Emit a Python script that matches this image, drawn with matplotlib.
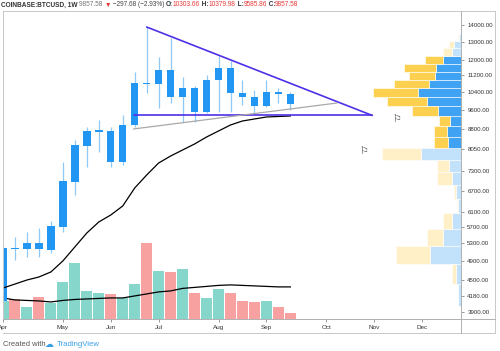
import numpy as np
import pandas as pd
import matplotlib
matplotlib.use('Agg')
import matplotlib.pyplot as plt
from matplotlib.lines import Line2D
from matplotlib.ticker import NullLocator

plt.rcParams['font.family'] = ['Liberation Sans', 'DejaVu Sans']

# weekly candles COINBASE:BTCUSD, first week = 1 Apr 2019
first_week = '2019-04-01'
opens = [4096, 5187, 5165, 5305, 5141, 5695, 6960, 8169, 8700, 8733, 7608, 8970, 10814,
         10766, 11458, 10161, 10576, 9505, 10960, 11560, 10343, 10161, 9761, 10388, 10303.66]
highs = [5250, 5448, 5570, 5670, 5849, 7608, 8390, 8890, 9171, 8890, 9379, 11357, 13875,
         12141, 13213, 11106, 10650, 11206, 12196, 11900, 10960, 10481, 10960, 10576, 10379.98]
lows = [4080, 4917, 4984, 4984, 5073, 5570, 6580, 7440, 7953, 7440, 7507, 8900, 10343,
        9675, 9900, 9091, 9091, 9461, 9505, 9505, 9804, 9461, 9718, 9892, 9585.86]
closes = [5187, 5165, 5305, 5165, 5722, 6990, 8205, 8733, 8760, 7608, 8970, 10814, 10766,
          11458, 10161, 10576, 9505, 10960, 11560, 10343, 10161, 9761, 10388, 10297, 9857.58]
price_ma = [4340, 4418, 4498, 4559, 4662, 4896, 5211, 5545, 5824, 6008, 6254, 6776, 7179,
            7574, 7812, 8025, 8242, 8502, 8733, 8970, 9131, 9212, 9295, 9316, 9337]

# volume (arbitrary units) and its moving average
volume = [18, 20, 12, 22, 16, 37, 56, 28, 26, 25, 21, 35, 76, 48, 47, 50, 26, 21, 30, 26,
          18, 17, 18, 12, 6]
volume_ma = [21, 19, 18.5, 18, 17, 18.5, 19.5, 20, 20.5, 21, 21, 23, 25, 27, 28, 30.5,
             31.5, 32.5, 33.5, 34, 33.5, 33, 32.5, 32, 32]

# visible range volume profile, rows of 410 USD starting at 4000
profile_start = 4000
profile_step = 410
profile_up = [3.5, 5, 31, 18, 9, 3, 5, 9, 12, 40, 13, 14, 11, 23, 34, 43, 32, 26, 25, 18,
              9, 7, 2, 1]
profile_down = [0, 4, 34, 16, 9, 1, 2, 15, 12, 39, 14, 13, 11, 26, 40, 45, 35, 26, 32, 18,
                9, 5, 1, 0.5]
value_area = (10, 19)

# drawings: (week index, price)
upper_trend = [(12, 13875), (30.83, 9360)]
lower_trend = [(10.9, 9360), (30.83, 9360)]
grey_trend = [(10.9, 8812), (27.9, 9892)]
flags = [(30.1, 7988), (32.9, 9212)]

price_ticks = [3900, 4180, 4500, 4900, 5300, 5700, 6100, 6700, 7300, 8050, 8800, 9600,
               10400, 11200, 12000, 13000, 14000]

header = [('COINBASE:BTCUSD, 1W ', '#333333', 'bold'), ('9857.58 ', '#777777', 'normal'),
          ('\u25bc', '#e53935', 'normal'), (' \u2212297.68 (\u22122.93%) ', '#444444', 'normal'),
          ('O:', '#333333', 'bold'), ('10303.66', '#e53935', 'normal'),
          (' H:', '#333333', 'bold'), ('10379.98', '#e53935', 'normal'),
          (' L:', '#333333', 'bold'), ('9585.86', '#e53935', 'normal'),
          (' C:', '#333333', 'bold'), ('9857.58', '#e53935', 'normal')]

W, H = 500, 351


def fx(px):
    return px / W


def fy(py):
    return 1 - py / H


fig = plt.figure(figsize=(5, 3.51), dpi=100)
rect = [fx(3), fy(319), fx(461) - fx(3), fy(11) - fy(319)]

ax_vol = fig.add_axes(rect)
ax = fig.add_axes(rect, sharex=ax_vol)
ax.set_yscale('log')
ax_prof = fig.add_axes(rect, sharey=ax)

x = np.arange(len(opens))
o = np.array(opens)
c = np.array(closes)
rising = c >= o

# volume
vol_colors = ['#86d6cc' if r else '#f7a1a0' for r in rising]
ax_vol.bar(x, volume, width=0.92, color=vol_colors, linewidth=0)
ax_vol.plot(x, volume_ma, color='black', lw=0.9)
ax_vol.set_ylim(0, max(volume) * 4.04)
ax_vol.set_xlim(0.083, 38.25)
ax_vol.axis('off')

# candles
ax.patch.set_visible(False)
ax.vlines(x, lows, highs, color='#90c8f6', lw=0.9, zorder=2)
ax.bar(x, np.abs(c - o), bottom=np.minimum(o, c), width=0.62, color='#2196f3',
       linewidth=0, zorder=3)
ax.plot(x, price_ma, color='black', lw=0.9, zorder=4)

for line, col, lw in [(upper_trend, '#4f2fe8', 1.2), (lower_trend, '#4f2fe8', 1.2),
                      (grey_trend, '#a8a8a8', 0.9)]:
    xs, ys = zip(*line)
    ax.plot(xs, ys, color=col, lw=lw, zorder=5, solid_capstyle='round')

for fxw, fp in flags:
    ax.text(fxw, fp, '\u2690', fontsize=7, family='DejaVu Sans', color='#333',
            ha='center', va='center', zorder=6)

ax.set_ylim(3781, 14900)
ax.yaxis.tick_right()
ax.set_yticks(price_ticks)
ax.set_yticklabels([f'{t:.2f}' for t in price_ticks])
ax.yaxis.set_minor_locator(NullLocator())
ax.tick_params(axis='y', length=2.5, width=0.6, color='#888', labelsize=4.4,
               labelcolor='#333', pad=2)

weeks = pd.date_range(first_week, periods=40, freq='7D')
month_idx = [i for i in range(len(weeks)) if i == 0 or weeks[i].month != weeks[i - 1].month]
ax.set_xticks(month_idx)
ax.set_xticklabels([weeks[i].strftime('%b') for i in month_idx])
ax.tick_params(axis='x', length=2, width=0.6, color='#888', labelsize=4.6,
               labelcolor='#333', pad=2.5)
for s in ax.spines.values():
    s.set_visible(False)

# volume profile
ax_prof.patch.set_visible(False)
rows = profile_start + profile_step * np.arange(len(profile_up))
in_va = [value_area[0] <= i <= value_area[1] for i in range(len(rows))]
blue_cols = ['#40a2f2' if v else '#c2e1fb' for v in in_va]
yel_cols = ['#fdd14f' if v else '#fff0c8' for v in in_va]
ax_prof.barh(rows, profile_up, height=profile_step, align='edge', color=blue_cols,
             edgecolor='white', linewidth=0.4)
ax_prof.barh(rows, profile_down, height=profile_step, align='edge', left=profile_up,
             color=yel_cols, edgecolor='white', linewidth=0.4)
tot = np.array(profile_up) + np.array(profile_down)
ax_prof.set_xlim(tot.max() / 0.192, 0)
ax_prof.tick_params(left=False, labelleft=False, right=False, labelright=False,
                    bottom=False, labelbottom=False)
for s in ax_prof.spines.values():
    s.set_visible(False)


# frame
def seg(x0, y0, x1, y1, col='#c8c8c8'):
    fig.add_artist(Line2D([fx(x0), fx(x1)], [fy(y0), fy(y1)], color=col, lw=0.7))


seg(3, 11, 495, 11)
seg(3, 333, 495, 333)
seg(3, 11, 3, 319)
seg(495, 11, 495, 333)
seg(3, 319, 495, 319, '#b0b0b0')
seg(461, 11, 461, 333, '#b0b0b0')

# header, each piece placed right after the previous one
txt, col, wt = header[0]
last = fig.text(fx(1), fy(5), txt, color=col, fontsize=4.7, weight=wt,
                va='center', ha='left')
for txt, col, wt in header[1:]:
    last = ax.annotate(txt, xy=(1, 0), xycoords=last, va='bottom', ha='left', color=col,
                       fontsize=4.7, weight=wt, annotation_clip=False)

# footer
fig.text(fx(3), fy(344), 'Created with', fontsize=5.4, color='#555555', va='center')
fig.text(fx(45), fy(344.5), '\u2601', fontsize=6.5, family='DejaVu Sans', color='#39a0e6',
         va='center')
fig.text(fx(57), fy(344), 'TradingView', fontsize=5.6, color='#39a0e6', va='center')

fig.savefig('out.png', dpi=100)
